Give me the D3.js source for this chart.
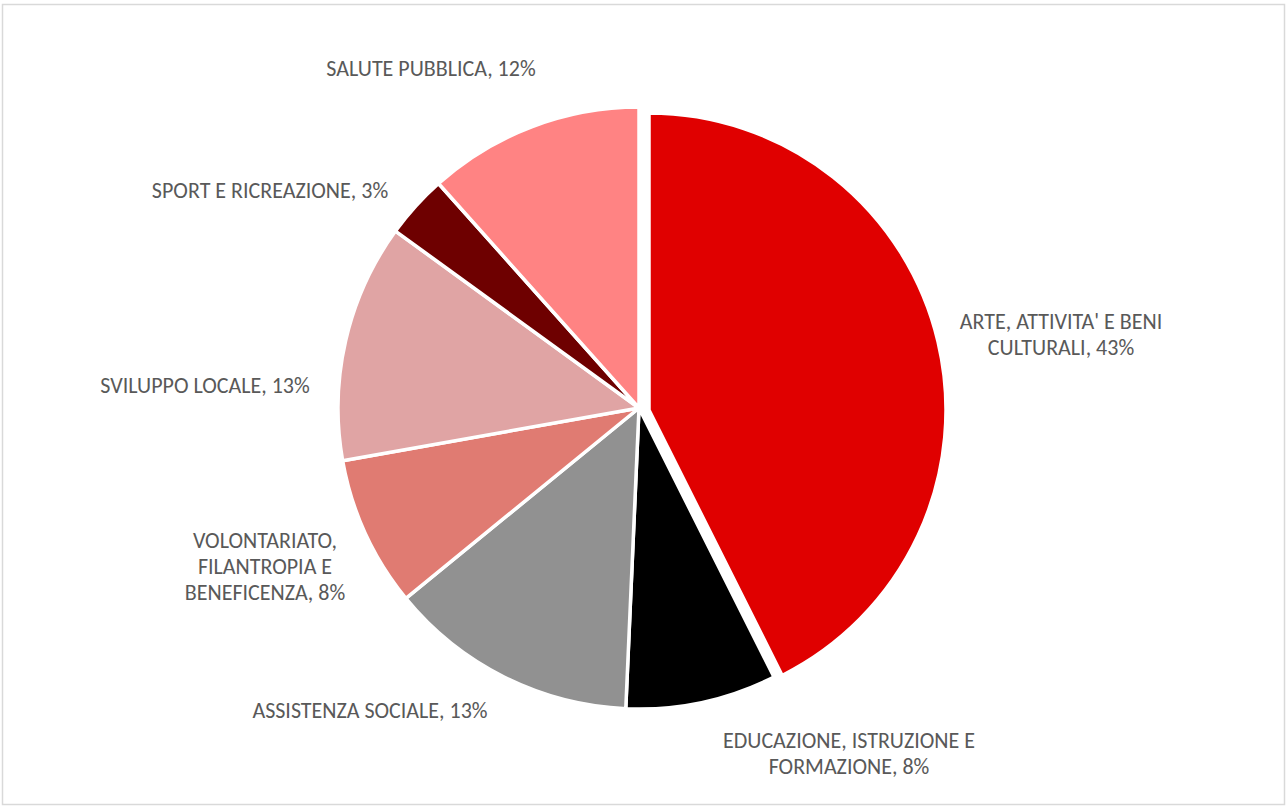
<!DOCTYPE html>
<html>
<head>
<meta charset="utf-8">
<script src="https://cdn.jsdelivr.net/npm/d3@7"></script>
<style>
    body { margin: 0; background: #ffffff; }
    svg text { font-family: Carlito, Lato, "Open Sans", sans-serif; fill: #595959; }
</style>
</head>
<body>
<div id="chart"></div>
<script>
// data (shares, percent)
var categories = [
    "ARTE, ATTIVITA' E BENI CULTURALI",
    "EDUCAZIONE, ISTRUZIONE E FORMAZIONE",
    "ASSISTENZA SOCIALE",
    "VOLONTARIATO, FILANTROPIA E BENEFICENZA",
    "SVILUPPO LOCALE",
    "SPORT E RICREAZIONE",
    "SALUTE PUBBLICA"
];
var shares = [42.6, 8.1, 13.4, 8.1, 12.8, 3.4, 11.6];
var labelLines = [
    ["ARTE, ATTIVITA' E BENI", "CULTURALI, 43%"],
    ["EDUCAZIONE, ISTRUZIONE E", "FORMAZIONE, 8%"],
    ["ASSISTENZA SOCIALE, 13%"],
    ["VOLONTARIATO,", "FILANTROPIA E", "BENEFICENZA, 8%"],
    ["SVILUPPO LOCALE, 13%"],
    ["SPORT E RICREAZIONE, 3%"],
    ["SALUTE PUBBLICA, 12%"]
];
var colors = ["#E00000", "#000000", "#919191", "#E07B72", "#E0A4A4", "#6E0000", "#FF8383"];

function createPie() {
    const width = 1287;
    const height = 808;
    const cx = 639, cy = 408, radius = 301;

    // label centres (text block centre), placed like excel's best fit
    const labelPos = [
        [1061, 334], [849, 753], [370, 710], [265, 566],
        [205, 385], [270, 190], [431, 68]
    ];

    const svg = d3.select("#chart")
        .append("svg")
        .attr("width", width)
        .attr("height", height);

    // chart area border
    svg.append("rect")
        .attr("x", 2.5)
        .attr("y", 4.5)
        .attr("width", 1282)
        .attr("height", 800)
        .attr("fill", "white")
        .attr("stroke", "#D9D9D9")
        .attr("stroke-width", 1.5);

    const pie = d3.pie().sort(null).value((d) => d);
    const arcs = pie(shares);

    const arc = d3.arc().innerRadius(0).outerRadius(radius);
    const arcExploded = d3.arc().innerRadius(0).outerRadius(radius - 4);

    const g = svg.append("g").attr("transform", `translate(${cx},${cy})`);

    g.selectAll("path")
        .data(arcs)
        .enter()
        .append("path")
        .attr("d", (d, i) => (i === 0 ? arcExploded(d) : arc(d)))
        .attr("transform", (d, i) => (i === 0 ? "translate(10,2)" : null))
        .attr("fill", (d, i) => colors[i])
        .attr("stroke", "white")
        .attr("stroke-width", 3.5)
        .attr("stroke-linejoin", "round")
        .append("title")
        .text((d, i) => categories[i]);

    // labels
    const fontSize = 22;
    const lineH = 26;
    labelLines.forEach(function(lines, i) {
        const t = svg.append("text")
            .attr("text-anchor", "middle")
            .attr("font-size", fontSize);
        const top = labelPos[i][1] - (lines.length - 1) * lineH / 2;
        lines.forEach(function(line, j) {
            t.append("tspan")
                .attr("x", labelPos[i][0])
                .attr("y", top + j * lineH)
                .attr("dy", "0.35em")
                .text(line);
        });
    });
}

createPie();
</script>
</body>
</html>
